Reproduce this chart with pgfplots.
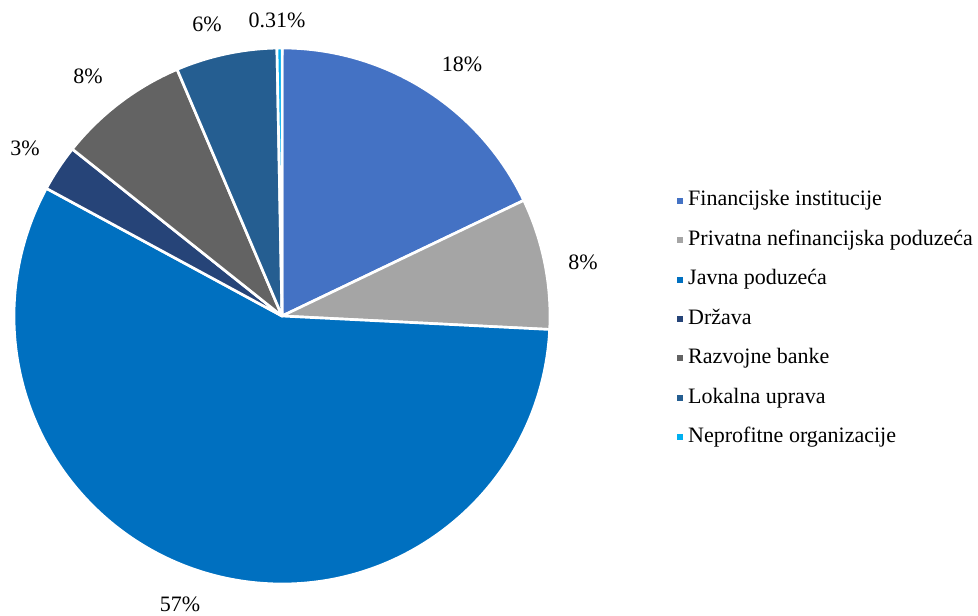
\documentclass[border=0pt]{standalone}
\usepackage{pgfplots}
\pgfplotsset{compat=1.18}
\usepackage{pgfplotstable}
\usepackage{fontspec}
\setmainfont{Liberation Serif}
\definecolor{finc}{HTML}{4472C4}
\definecolor{priv}{HTML}{A5A5A5}
\definecolor{javna}{HTML}{0070C0}
\definecolor{drz}{HTML}{264478}
\definecolor{razv}{HTML}{636363}
\definecolor{lok}{HTML}{255E91}
\definecolor{nepr}{HTML}{00B0F0}
\pgfplotstableread[col sep=comma]{
name,value,color
Financijske institucije,17.9,finc
Privatna nefinancijska poduzeća,7.9,priv
Javna poduzeća,57.1,javna
Država,2.8,drz
Razvojne banke,7.9,razv
Lokalna uprava,6.1,lok
Neprofitne organizacije,0.31,nepr
}\piedata
\begin{document}
\begin{tikzpicture}
\begin{axis}[
  x=0.75pt, y=0.75pt,
  xmin=0, xmax=978, ymin=0, ymax=615,
  hide axis, scale only axis, clip=false,
  legend image code/.code={\fill[#1, draw=none] (0pt,-2.25pt) rectangle (4.5pt,2.25pt); \path (8pt,0pt);},
  legend cell align=left,
  legend style={at={(axis cs:673,428)}, anchor=north west, draw=none, fill=none,
    font=\fontsize{16.5}{18}\selectfont, row sep=13.6pt,
    nodes={inner sep=0pt, text height=12pt, text depth=4pt}},
]
\pgfmathsetmacro{\cum}{90}
\pgfplotsforeachungrouped \i in {0,...,6}{%
  \pgfplotstablegetelem{\i}{value}\of\piedata \let\v\pgfplotsretval
  \pgfplotstablegetelem{\i}{color}\of\piedata \let\c\pgfplotsretval
  \pgfmathsetmacro{\endang}{\cum-3.6*\v}%
  \edef\temp{\noexpand\fill[\c, draw=white, line width=2pt, line join=round] (axis cs:282,299) -- ++(\cum:201pt) arc[start angle=\cum, end angle=\endang, radius=201pt] -- cycle;}%
  \temp
  \global\let\cum\endang
}
\addlegendimage{fill=finc}\addlegendentry{Financijske institucije}
\addlegendimage{fill=priv}\addlegendentry{Privatna nefinancijska poduzeća}
\addlegendimage{fill=javna}\addlegendentry{Javna poduzeća}
\addlegendimage{fill=drz}\addlegendentry{Država}
\addlegendimage{fill=razv}\addlegendentry{Razvojne banke}
\addlegendimage{fill=lok}\addlegendentry{Lokalna uprava}
\addlegendimage{fill=nepr}\addlegendentry{Neprofitne organizacije}
\begin{scope}[every node/.style={font=\fontsize{16.5}{18}\selectfont, inner sep=0pt}]
\node at (axis cs:462,551) {18\%};
\node at (axis cs:583,353) {8\%};
\node at (axis cs:180,11) {57\%};
\node at (axis cs:25,467) {3\%};
\node at (axis cs:88,539) {8\%};
\node at (axis cs:207,591) {6\%};
\node at (axis cs:277,595) {0.31\%};
\end{scope}
\coordinate (bl) at (axis cs:0,0);
\coordinate (tr) at (axis cs:978,615);
\end{axis}
\pgfresetboundingbox
\useasboundingbox (bl) rectangle (tr);
\end{tikzpicture}
\end{document}
